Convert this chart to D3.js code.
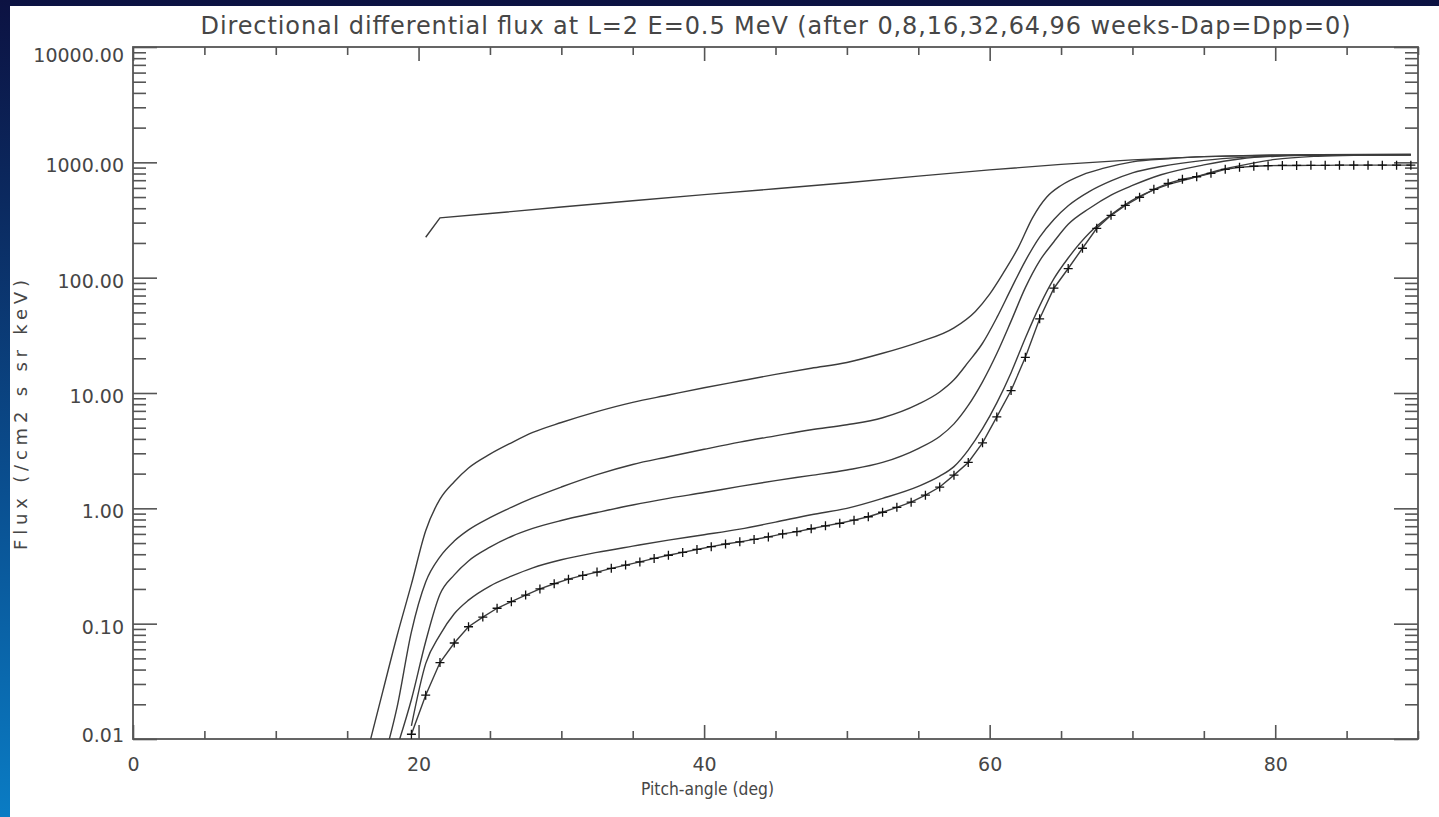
<!DOCTYPE html>
<html>
<head>
<meta charset="utf-8">
<script src="https://cdn.jsdelivr.net/npm/d3@7"></script>
<style>
  html, body { margin: 0; padding: 0; background: #0b1442; }
  svg { display: block; }
  text { font-family: "DejaVu Sans", sans-serif; fill: #464646; }
</style>
</head>
<body>
<svg id="chart"></svg>
<script>
// pitch-angle grid (deg) and flux per curve
const pitch0 = [20.5, 21.5, 25, 30, 35, 40, 45, 50, 55, 60, 65, 70, 75, 80, 89.5];
const flux0 = [224, 330, 360, 410, 465, 525, 590, 665, 760, 860, 960, 1050, 1120, 1160, 1175];

const pitch8 = [16.5, 17.5, 18.5, 19.5, 20.5, 21.5, 22.5, 23.5, 25, 26.5, 28, 30, 32.5, 35, 37.5, 40, 42.5, 45, 47.5, 50, 52.5, 55, 57.5, 59, 60, 61, 62, 63, 64, 65, 66.5, 68, 70, 72.5, 75, 80, 89.5];
const flux8 = [0.0085, 0.026, 0.079, 0.22, 0.64, 1.2, 1.7, 2.24, 2.95, 3.7, 4.55, 5.55, 6.9, 8.3, 9.6, 11.1, 12.7, 14.5, 16.4, 18.4, 22.1, 27.5, 36.7, 51, 72, 112, 182, 330, 500, 630, 780, 890, 1010, 1075, 1120, 1150, 1165];

const pitch16 = [17.5, 18.5, 19.5, 20.5, 21.5, 22.5, 23.5, 25, 26.5, 28, 30, 32.5, 35, 37.5, 40, 42.5, 45, 47.5, 50, 52.5, 55, 56.5, 57.5, 58.5, 59.5, 60.5, 61.5, 62.5, 63.5, 64.5, 65.5, 67, 68.5, 70, 72, 75, 78, 82, 89.5];
const flux16 = [0.0062, 0.019, 0.085, 0.23, 0.38, 0.52, 0.65, 0.83, 1.02, 1.23, 1.53, 1.96, 2.4, 2.8, 3.25, 3.75, 4.25, 4.8, 5.3, 6.1, 8.0, 10.2, 13, 18.5, 27, 45, 80, 140, 225, 320, 420, 560, 690, 810, 920, 1040, 1110, 1150, 1165];

const pitch32 = [18.5, 19.5, 20.5, 21.5, 22.5, 23.5, 25, 26.5, 28, 30, 32.5, 35, 37.5, 40, 42.5, 45, 47.5, 50, 52.5, 55, 56.5, 57.5, 58.5, 59.5, 60.5, 61.5, 62.5, 63.5, 64.5, 65.5, 67, 68.5, 70, 72, 75, 77.5, 80, 84, 89.5];
const flux32 = [0.0085, 0.022, 0.07, 0.18, 0.265, 0.35, 0.46, 0.57, 0.67, 0.785, 0.92, 1.07, 1.22, 1.37, 1.55, 1.74, 1.93, 2.15, 2.5, 3.3, 4.2, 5.4, 7.8, 12.5, 22, 42, 82, 140, 205, 290, 400, 520, 630, 780, 950, 1070, 1130, 1160, 1165];

const pitch64 = [19.5, 20.5, 21.5, 22.5, 23.5, 25, 26.5, 28, 30, 32.5, 35, 37.5, 40, 42.5, 45, 47.5, 50, 52.5, 55, 56.5, 57.5, 58.5, 59.5, 60.5, 61.5, 62.5, 63.5, 64.5, 65.5, 67, 68.5, 70, 72, 74, 76, 78, 80, 83, 86, 89.5];
const flux64 = [0.013, 0.045, 0.08, 0.122, 0.16, 0.212, 0.258, 0.305, 0.358, 0.415, 0.47, 0.53, 0.59, 0.66, 0.76, 0.88, 1.0, 1.22, 1.55, 1.9, 2.3, 3.2, 4.9, 8.2, 15, 30, 57, 98, 148, 245, 350, 470, 610, 720, 850, 960, 1060, 1130, 1155, 1165];

// 96 weeks, drawn with + at every grid point
const pitch96 = [19.5, 20.5, 21.5, 22.5, 23.5, 24.5, 25.5, 26.5, 27.5, 28.5, 29.5, 30.5, 31.5, 32.5, 33.5, 34.5, 35.5, 36.5, 37.5, 38.5, 39.5,
  40.5, 41.5, 42.5, 43.5, 44.5, 45.5, 46.5, 47.5, 48.5, 49.5, 50.5, 51.5, 52.5, 53.5, 54.5, 55.5, 56.5, 57.5, 58.5, 59.5,
  60.5, 61.5, 62.5, 63.5, 64.5, 65.5, 66.5, 67.5, 68.5, 69.5, 70.5, 71.5, 72.5, 73.5, 74.5, 75.5, 76.5, 77.5, 78.5, 79.5,
  80.5, 81.5, 82.5, 83.5, 84.5, 85.5, 86.5, 87.5, 88.5, 89.5];
const flux96 = [0.011, 0.024, 0.046, 0.068, 0.094, 0.114, 0.136, 0.155, 0.177, 0.2, 0.222, 0.243, 0.262, 0.28, 0.302, 0.322, 0.343, 0.368, 0.392, 0.415, 0.44,
  0.465, 0.49, 0.512, 0.538, 0.565, 0.6, 0.628, 0.665, 0.705, 0.742, 0.79, 0.845, 0.925, 1.02, 1.13, 1.30, 1.53, 1.94, 2.5, 3.7,
  6.2, 10.5, 20.4, 44, 81, 120, 180, 268, 347, 424, 498, 583, 658, 713, 750, 803, 870, 905, 925, 935,
  940, 940, 942, 942, 945, 945, 945, 945, 945, 945];

const xMajor = [0, 20, 40, 60, 80];
const xLabels = ["0", "20", "40", "60", "80"];
const yMajor = [0.01, 0.1, 1, 10, 100, 1000, 10000];
const yLabels = ["0.01", "0.10", "1.00", "10.00", "100.00", "1000.00", "10000.00"];

const title = "Directional differential flux at L=2 E=0.5 MeV (after 0,8,16,32,64,96 weeks-Dap=Dpp=0)";
const xTitle = "Pitch-angle (deg)";
const yTitle = "Flux (/cm2 s sr keV)";

const width = 1439;
const height = 817;
const margin = {top : 47, left : 133, bottom : 78, right : 21};
const textColor = "#464646";

const svg = d3.select("#chart")
    .attr("width", width)
    .attr("height", height)
    .attr("viewBox", [0, 0, width, height]);

// slide background + white sheet
const defs = svg.append("defs");
const grad = defs.append("linearGradient")
    .attr("id", "bg").attr("x1", 0).attr("y1", 0).attr("x2", 0).attr("y2", 1);
grad.append("stop").attr("offset", "0%").attr("stop-color", "#0c1242");
grad.append("stop").attr("offset", "25%").attr("stop-color", "#0b2a60");
grad.append("stop").attr("offset", "60%").attr("stop-color", "#0a4f90");
grad.append("stop").attr("offset", "100%").attr("stop-color", "#0a7cc4");

defs.append("clipPath").attr("id", "plotclip")
  .append("rect")
    .attr("x", margin.left).attr("y", margin.top)
    .attr("width", width - margin.left - margin.right)
    .attr("height", height - margin.top - margin.bottom);

svg.append("rect").attr("width", width).attr("height", height).attr("fill", "url(#bg)");
svg.append("rect").attr("x", 10).attr("y", 6).attr("width", width - 10).attr("height", height - 6).attr("fill", "#fff");

const x = d3.scaleLinear()
    .domain([0, 90])
    .range([margin.left, width - margin.right]);

const y = d3.scaleLog()
    .domain([0.01, 10000])
    .range([height - margin.bottom, margin.top]);

const xMinor = d3.range(0, 91, 5).filter(v => !xMajor.includes(v));
const yMinor = yMajor.slice(0, -1).flatMap(d => [2, 3, 4, 5, 6, 7, 8, 9].map(k => d * k));

const axisColor = "#555";

function styleAxis(g) {
    g.select(".domain").remove();
    g.selectAll(".tick line").attr("stroke", axisColor).attr("stroke-width", 1.6);
}

// x ticks, bottom and top, pointing inward
svg.append("g")
    .attr("transform", `translate(0,${height - margin.bottom})`)
    .call(d3.axisBottom(x).tickValues(xMinor).tickSize(-8).tickFormat(""))
    .call(styleAxis);

svg.append("g")
    .attr("transform", `translate(0,${height - margin.bottom})`)
    .call(d3.axisBottom(x).tickValues(xMajor).tickSize(-14).tickFormat((d, i) => xLabels[i]))
    .call(styleAxis)
    .call(g => g.selectAll("text")
        .attr("y", 32).attr("dy", null)
        .attr("font-size", 19)
        .attr("font-family", "DejaVu Sans")
        .attr("fill", textColor));

svg.append("g")
    .attr("transform", `translate(0,${margin.top})`)
    .call(d3.axisTop(x).tickValues(xMinor).tickSize(-8).tickFormat(""))
    .call(styleAxis);

svg.append("g")
    .attr("transform", `translate(0,${margin.top})`)
    .call(d3.axisTop(x).tickValues(xMajor).tickSize(-14).tickFormat(""))
    .call(styleAxis);

// y ticks, left and right
svg.append("g")
    .attr("transform", `translate(${margin.left},0)`)
    .call(d3.axisLeft(y).tickValues(yMinor).tickSize(-13).tickFormat(""))
    .call(styleAxis);

svg.append("g")
    .attr("transform", `translate(${margin.left},0)`)
    .call(d3.axisLeft(y).tickValues(yMajor).tickSize(-24).tickPadding(9).tickFormat((d, i) => yLabels[i]))
    .call(styleAxis)
    .call(g => g.selectAll("text")
        .attr("dy", null)
        .attr("y", (d, i) => i === 0 ? 2 : (i === yMajor.length - 1 ? 14 : 9.5))
        .attr("font-size", 19)
        .attr("font-family", "DejaVu Sans")
        .attr("fill", textColor));

svg.append("g")
    .attr("transform", `translate(${width - margin.right},0)`)
    .call(d3.axisRight(y).tickValues(yMinor).tickSize(-13).tickFormat(""))
    .call(styleAxis);

svg.append("g")
    .attr("transform", `translate(${width - margin.right},0)`)
    .call(d3.axisRight(y).tickValues(yMajor).tickSize(-24).tickFormat(""))
    .call(styleAxis);

// frame
svg.append("rect")
    .attr("x", margin.left).attr("y", margin.top)
    .attr("width", width - margin.left - margin.right)
    .attr("height", height - margin.top - margin.bottom)
    .attr("fill", "none")
    .attr("stroke", axisColor)
    .attr("stroke-width", 1.8);

// curves
const curves = [
    {p : pitch0, f : flux0, smooth : false},
    {p : pitch8, f : flux8, smooth : true},
    {p : pitch16, f : flux16, smooth : true},
    {p : pitch32, f : flux32, smooth : true},
    {p : pitch64, f : flux64, smooth : true},
    {p : pitch96, f : flux96, smooth : false}
];

const plot = svg.append("g").attr("clip-path", "url(#plotclip)");

curves.forEach(c => {
    const pts = c.p.map((d, i) => [d, c.f[i]]);
    const line = d3.line()
        .x(d => x(d[0]))
        .y(d => y(d[1]))
        .curve(c.smooth ? d3.curveMonotoneX : d3.curveLinear);
    plot.append("path")
        .datum(pts)
        .attr("d", line)
        .attr("fill", "none")
        .attr("stroke", "#3c3c3c")
        .attr("stroke-width", 1.4);
});

// + markers on the 96-week curve
plot.append("g")
    .selectAll("path")
    .data(pitch96.map((d, i) => [d, flux96[i]]))
    .join("path")
    .attr("transform", d => `translate(${x(d[0])},${y(d[1])})`)
    .attr("d", "M-4.5,0H4.5M0,-4.5V4.5")
    .attr("stroke", "#111")
    .attr("stroke-width", 1.3)
    .attr("fill", "none");

// titles
svg.append("text")
    .attr("x", (margin.left + width - margin.right) / 2)
    .attr("y", 34)
    .attr("text-anchor", "middle")
    .attr("font-size", 24)
    .attr("textLength", 1150)
    .text(title);

svg.append("text")
    .attr("x", 641)
    .attr("y", 795)
    .attr("font-size", 18)
    .attr("textLength", 133)
    .attr("lengthAdjust", "spacingAndGlyphs")
    .text(xTitle);

svg.append("text")
    .attr("transform", "translate(27,415) rotate(-90)")
    .attr("text-anchor", "middle")
    .attr("font-size", 18)
    .attr("textLength", 270)
    .text(yTitle);
</script>
</body>
</html>
